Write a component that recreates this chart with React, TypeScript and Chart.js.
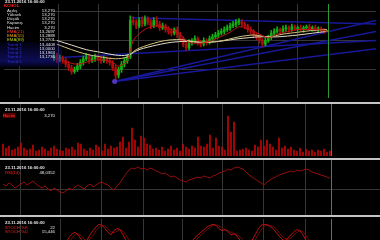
import React, { useEffect, useRef } from "react";
import { Chart, registerables } from "chart.js";

Chart.register(...registerables);

// ---------------- DATA ----------------
const DATE_LABEL = "23.11.2016 16:00:00";
const SYMBOL = "KCHOL";

const opens = [
  13.10, 13.12, 13.10, 13.14, 13.11, 13.08, 13.09, 13.05, 13.07, 13.04,
  13.02, 13.05, 13.01, 12.99, 13.02, 12.98, 12.97, 13.00, 12.96, 12.98,
  12.95, 12.91, 12.87, 12.83, 12.85, 12.89, 12.93, 12.97, 12.99, 12.95,
  12.97, 12.99, 12.97, 12.95, 12.97, 12.95, 12.93, 12.87, 12.79, 12.85,
  12.91, 12.95, 12.99, 13.39, 13.37, 13.33, 13.39, 13.35, 13.41, 13.37,
  13.33, 13.39, 13.35, 13.31, 13.33, 13.29, 13.27, 13.25, 13.29, 13.23,
  13.19, 13.13, 13.09, 13.15, 13.17, 13.19, 13.15, 13.13, 13.17, 13.15,
  13.19, 13.21, 13.23, 13.25, 13.27, 13.29, 13.31, 13.33, 13.35, 13.37,
  13.37, 13.35, 13.33, 13.29, 13.27, 13.23, 13.21, 13.17, 13.13, 13.17,
  13.21, 13.25, 13.27, 13.29, 13.27, 13.30, 13.31, 13.29, 13.32, 13.30,
  13.31, 13.29, 13.31, 13.32, 13.30, 13.31, 13.29, 13.30, 13.28, 13.27,
];
const highs = [
  13.15, 13.14, 13.16, 13.17, 13.13, 13.12, 13.11, 13.10, 13.09, 13.07,
  13.07, 13.08, 13.04, 13.04, 13.05, 13.01, 13.02, 13.03, 13.01, 13.00,
  12.98, 12.94, 12.90, 12.88, 12.92, 12.96, 13.00, 13.03, 13.02, 13.00,
  13.02, 13.01, 12.99, 13.00, 12.99, 12.98, 12.95, 12.90, 12.88, 12.94,
  12.98, 13.02, 13.44, 13.43, 13.40, 13.42, 13.43, 13.44, 13.43, 13.40,
  13.42, 13.43, 13.38, 13.36, 13.35, 13.32, 13.30, 13.31, 13.32, 13.26,
  13.21, 13.16, 13.18, 13.19, 13.22, 13.21, 13.17, 13.20, 13.19, 13.22,
  13.24, 13.26, 13.28, 13.30, 13.32, 13.34, 13.36, 13.38, 13.40, 13.41,
  13.40, 13.37, 13.35, 13.32, 13.29, 13.25, 13.23, 13.19, 13.20, 13.23,
  13.28, 13.30, 13.32, 13.31, 13.33, 13.34, 13.33, 13.35, 13.34, 13.33,
  13.34, 13.33, 13.34, 13.35, 13.33, 13.34, 13.32, 13.32, 13.30, 13.27,
];
const lows = [
  13.08, 13.07, 13.08, 13.09, 13.05, 13.06, 13.02, 13.03, 13.01, 12.99,
  13.00, 12.98, 12.96, 12.97, 12.95, 12.94, 12.95, 12.93, 12.94, 12.92,
  12.88, 12.84, 12.80, 12.81, 12.83, 12.86, 12.90, 12.95, 12.92, 12.93,
  12.94, 12.95, 12.92, 12.93, 12.92, 12.90, 12.84, 12.72, 12.76, 12.82,
  12.88, 12.92, 12.97, 13.34, 13.30, 13.31, 13.32, 13.33, 13.34, 13.30,
  13.31, 13.32, 13.28, 13.29, 13.26, 13.24, 13.22, 13.23, 13.20, 13.16,
  13.10, 13.06, 13.07, 13.12, 13.15, 13.12, 13.10, 13.11, 13.12, 13.13,
  13.16, 13.19, 13.20, 13.23, 13.24, 13.27, 13.28, 13.31, 13.32, 13.34,
  13.32, 13.30, 13.26, 13.24, 13.20, 13.18, 13.14, 13.10, 13.11, 13.15,
  13.18, 13.22, 13.25, 13.24, 13.25, 13.27, 13.26, 13.27, 13.28, 13.27,
  13.27, 13.26, 13.29, 13.28, 13.27, 13.27, 13.26, 13.26, 13.25, 13.27,
];
const closes = [
  13.12, 13.10, 13.14, 13.11, 13.08, 13.09, 13.05, 13.07, 13.04, 13.02,
  13.05, 13.01, 12.99, 13.02, 12.98, 12.97, 13.00, 12.96, 12.98, 12.95,
  12.91, 12.87, 12.83, 12.85, 12.89, 12.93, 12.97, 12.99, 12.95, 12.97,
  12.99, 12.97, 12.95, 12.97, 12.95, 12.93, 12.87, 12.79, 12.85, 12.91,
  12.95, 12.99, 13.39, 13.37, 13.33, 13.39, 13.35, 13.41, 13.37, 13.33,
  13.39, 13.35, 13.31, 13.33, 13.29, 13.27, 13.25, 13.29, 13.23, 13.19,
  13.13, 13.09, 13.15, 13.17, 13.19, 13.15, 13.13, 13.17, 13.15, 13.19,
  13.21, 13.23, 13.25, 13.27, 13.29, 13.31, 13.33, 13.35, 13.37, 13.37,
  13.35, 13.33, 13.29, 13.27, 13.23, 13.21, 13.17, 13.13, 13.17, 13.21,
  13.25, 13.27, 13.29, 13.27, 13.30, 13.31, 13.29, 13.32, 13.30, 13.31,
  13.29, 13.31, 13.32, 13.30, 13.31, 13.29, 13.30, 13.28, 13.27, 13.27,
];
const volumes = [
  7800, 5200, 6500, 3900, 4550, 5850, 8450, 5200, 3900, 4550,
  7150, 3250, 3900, 5850, 4550, 3250, 5200, 6500, 4550, 3900,
  3250, 5200, 4550, 5850, 3900, 8450, 7800, 4550, 3250, 5200,
  3900, 7150, 5850, 3250, 7800, 4550, 6500, 5200, 5850, 9100,
  12350, 5200, 9100, 18200, 10400, 5850, 13000, 11700, 7800, 7150,
  4550, 5200, 3900, 5850, 3250, 4550, 6500, 3900, 5200, 3250,
  7800, 5850, 4550, 6500, 5200, 12350, 6500, 5850, 7800, 13650,
  5200, 11700, 6500, 5850, 3900, 26000, 15600, 22100, 3250, 3900,
  4550, 5200, 3900, 3250, 7150, 5850, 10400, 6500, 10400, 7800,
  5850, 3900, 11700, 5200, 6500, 4550, 5850, 3900, 3250, 5200,
  2600, 4550, 3250, 3900, 2600, 3900, 3250, 4550, 2600, 3270,
];
const rsi = [
  40.6, 38.0, 41.9, 39.3, 35.3, 38.0, 40.6, 43.2, 39.3, 41.9,
  44.5, 40.6, 38.0, 35.3, 38.0, 34.0, 31.4, 35.3, 32.7, 30.1,
  28.8, 31.4, 35.3, 32.7, 36.7, 39.3, 36.7, 34.0, 38.0, 40.6,
  36.7, 39.3, 41.9, 43.2, 40.6, 39.3, 35.3, 32.7, 38.0, 41.9,
  48.4, 53.7, 58.9, 61.5, 60.2, 62.8, 60.2, 61.5, 58.9, 61.5,
  60.2, 57.6, 56.3, 53.7, 55.0, 52.4, 49.7, 51.1, 48.4, 45.8,
  44.5, 43.2, 45.8, 47.1, 48.4, 49.7, 48.4, 51.1, 49.7, 48.4,
  51.1, 52.4, 55.0, 56.3, 57.6, 60.2, 58.9, 61.5, 62.8, 61.5,
  60.2, 56.3, 52.4, 49.7, 47.1, 44.5, 41.9, 39.3, 43.2, 45.8,
  48.4, 49.7, 52.4, 53.7, 55.0, 56.3, 57.6, 56.3, 58.9, 57.6,
  58.9, 60.2, 58.9, 56.3, 55.0, 53.7, 52.4, 51.1, 49.7, 48.04,
];
const stochK = [
  30, 25, 35, 45, 40, 30, 20, 15, 25, 35,
  40, 45, 35, 25, 20, 30, 40, 50, 45, 35,
  45, 55, 65, 72, 75, 70, 62, 55, 60, 70,
  78, 85, 90, 88, 82, 75, 70, 78, 82, 80,
  70, 60, 50, 45, 40, 35, 30, 38, 45, 42,
  35, 28, 22, 25, 30, 35, 28, 20, 15, 20,
  30, 40, 50, 58, 65, 70, 75, 80, 85, 88,
  90, 88, 82, 78, 80, 76, 70, 72, 68, 60,
  50, 45, 50, 60, 70, 80, 88, 90, 89, 86,
  82, 75, 68, 62, 58, 65, 70, 76, 80, 78,
  70, 60, 50, 42, 35, 30, 26, 24, 23, 22,
];
const stochD = [
  32, 30, 30, 35, 40, 38, 30, 22, 20, 25,
  33, 40, 40, 35, 27, 25, 30, 40, 45, 43,
  42, 45, 55, 64, 71, 72, 69, 62, 59, 62,
  69, 78, 84, 88, 87, 82, 76, 74, 77, 80,
  77, 70, 60, 52, 45, 40, 35, 34, 38, 42,
  41, 35, 28, 25, 26, 30, 31, 28, 21, 18,
  22, 30, 40, 49, 58, 64, 70, 75, 80, 84,
  88, 89, 87, 83, 80, 78, 75, 73, 70, 67,
  59, 52, 48, 52, 60, 70, 79, 86, 89, 88,
  86, 81, 75, 68, 63, 62, 64, 70, 75, 78,
  76, 69, 60, 51, 42, 36, 30, 27, 24, 15.446,
];

const emaFastIdx = [17, 19, 24, 29, 32, 36, 38, 41, 43, 46, 49, 52, 56, 59, 62, 66, 69, 72, 76, 79, 82, 86, 89, 92, 96, 99, 103, 106, 109];
const emaFast = [12.98, 12.95, 12.91, 12.95, 12.96, 12.93, 12.89, 12.95, 13.17, 13.27, 13.32, 13.33, 13.29, 13.24, 13.15, 13.14, 13.16, 13.20, 13.26, 13.32, 13.30, 13.24, 13.20, 13.24, 13.27, 13.29, 13.29, 13.29, 13.2697];
const emaMidIdx = [17, 22, 27, 32, 37, 41, 44, 49, 54, 59, 66, 72, 79, 84, 89, 94, 99, 104, 109];
const emaMid = [13.13, 13.07, 13.02, 12.99, 12.97, 12.99, 13.07, 13.13, 13.17, 13.18, 13.15, 13.16, 13.21, 13.23, 13.21, 13.24, 13.26, 13.28, 13.2888];
const emaSlowIdx = [17, 22, 27, 32, 37, 41, 45, 51, 56, 61, 66, 72, 79, 86, 92, 99, 104, 109];
const emaSlow = [13.17, 13.12, 13.07, 13.04, 13.01, 13.01, 13.07, 13.12, 13.15, 13.16, 13.15, 13.16, 13.19, 13.21, 13.21, 13.23, 13.25, 13.2701];

const trendFromIdx = [42.33, 36.67, 36.67, 36.67, -1];
const trendFromVal = [13.42, 12.72, 12.72, 12.72, 12.95];
const trendToIdx = [125.67, 125.67, 125.67, 125.67, 125.67];
const trendToVal = [13.35, 13.39, 13.27, 13.08, 13.17];
const pivotIdx = 36.67;
const pivotVal = 12.72;

const legendLabels = ["Açılış", "Yüksek", "Düşük", "Kapanış", "Hacim", "EMA(21)", "EMA(55)", "EMA(89)", "Trend 1", "Trend 2", "Trend 3", "Trend 4", "Trend 5"];
const legendValues = ["13,270", "13,270", "13,270", "13,270", "3,270", "13,2697", "13,2888", "13,2701", "13,4408", "13,0000", "13,1963", "13,1736", ""];
const volumeLabel = "Hacim";
const volumeValue = "3,270";
const rsiLabel = "RSI(14)";
const rsiValue = "48,0352";
const stochLabels = ["STOCH %K", "STOCH %D"];
const stochValues = ["22", "15,446"];

const timeGridTop = [4.33, 17.67, 31.33, 44.67, 58.33, 71.67, 85.67, 99];
const timeGridLow = [5.67, 19.33, 33, 46.67, 60, 73.33, 87, 101];
const priceGrid = [12.85, 13.17, 13.49];
const rsiGrid = [34];
const CURSOR = 109.5;

// ---------------- STYLE ----------------
const W = 380;
const X_MIN = -1;
const X_MAX = 125.67;
const GRID = "#363636";
const UP = "#12b012";
const DOWN = "#b00c0c";
const BLUE = "#18189a";
const VOL_MAX = 33800;
const FONT = '"Liberation Sans", Arial, sans-serif';

const idx = opens.map((_, i) => i);

function xAxis(ticks: number[]) {
  return {
    type: "linear",
    min: X_MIN,
    max: X_MAX,
    offset: false,
    afterBuildTicks: (s: any) => {
      s.ticks = ticks.map((v) => ({ value: v }));
    },
    ticks: { display: false },
    grid: { color: GRID, drawTicks: false, offset: false },
    border: { display: false },
  };
}
function yAxis(min: number, max: number, ticks: number[] | null) {
  const ax: any = {
    type: "linear",
    min,
    max,
    ticks: { display: false },
    grid: { display: !!ticks, color: GRID, drawTicks: false },
    border: { display: false },
  };
  if (ticks) {
    ax.afterBuildTicks = (s: any) => {
      s.ticks = ticks.map((v) => ({ value: v }));
    };
  }
  return ax;
}
function baseOptions(x: any, y: any, padding: any) {
  return {
    responsive: false,
    animation: false,
    events: [],
    layout: { padding },
    plugins: { legend: { display: false }, tooltip: { enabled: false } },
    scales: { x, y },
  };
}
function lineDs(xs: number[], ys: number[], color: string, width = 1, tension = 0) {
  return {
    type: "line",
    data: xs.map((x, k) => ({ x, y: ys[k] })),
    borderColor: color,
    borderWidth: width,
    pointRadius: 0,
    tension,
    fill: false,
  };
}
function cursorDs(lo: number, hi: number) {
  return lineDs([CURSOR, CURSOR], [lo, hi], "#2e9a2e", 1);
}

const candleColors = idx.map((i) => (closes[i] >= opens[i] ? UP : DOWN));

const priceConfig: any = {
  type: "bar",
  data: {
    datasets: [
      cursorDs(12.54, 13.57),
      lineDs(emaFastIdx, emaFast, "#b81414", 1, 0.3),
      lineDs(emaMidIdx, emaMid, "#d2c27c", 1, 0.3),
      lineDs(emaSlowIdx, emaSlow, "#e2dec4", 1, 0.3),
      {
        type: "line",
        data: [{ x: pivotIdx, y: pivotVal }],
        showLine: false,
        pointRadius: 2.5,
        pointBackgroundColor: "#5036c0",
        pointBorderWidth: 0,
      },
      {
        type: "bar",
        data: idx.map((i) => ({ x: i, y: [opens[i], closes[i]] })),
        backgroundColor: candleColors,
        barThickness: 2,
        minBarLength: 1,
        grouped: false,
      },
      {
        type: "bar",
        data: idx.map((i) => ({ x: i, y: [lows[i], highs[i]] })),
        backgroundColor: candleColors,
        barThickness: 1,
        grouped: false,
      },
      ...trendFromIdx.map((f, k) =>
        lineDs([f, trendToIdx[k]], [trendFromVal[k], trendToVal[k]], BLUE, 1.5)
      ),
    ],
  },
  options: baseOptions(xAxis(timeGridTop), yAxis(12.54, 13.57, priceGrid), 0),
};

const volumeConfig: any = {
  type: "bar",
  data: {
    datasets: [
      cursorDs(0, VOL_MAX),
      {
        type: "bar",
        data: idx.map((i) => ({ x: i, y: volumes[i] })),
        backgroundColor: "#c00606",
        barThickness: 1,
      },
    ],
  },
  options: baseOptions(xAxis(timeGridLow), yAxis(0, VOL_MAX, null), { bottom: 2 }),
};

const rsiConfig: any = {
  type: "line",
  data: {
    datasets: [
      cursorDs(0, 72),
      lineDs(idx, rsi, "#960c0c", 1),
    ],
  },
  options: baseOptions(xAxis(timeGridLow), yAxis(0, 72, rsiGrid), 0),
};

const stochConfig: any = {
  type: "line",
  data: {
    datasets: [
      cursorDs(0, 100),
      lineDs(idx, stochK, "#b41212", 1),
      lineDs(idx, stochD, "#700808", 1),
    ],
  },
  options: baseOptions(xAxis(timeGridLow), yAxis(0, 100, null), { top: 2 }),
};

function Panel({ top, height, config }: { top: number; height: number; config: any }) {
  const ref = useRef<HTMLCanvasElement>(null);
  useEffect(() => {
    const chart = new Chart(ref.current as HTMLCanvasElement, config);
    return () => chart.destroy();
  }, []);
  return (
    <canvas
      ref={ref}
      width={W}
      height={height}
      style={{ position: "absolute", left: 0, top, width: W, height, display: "block" }}
    />
  );
}

function T({ x, y, color = "#e6e6e6", right = false, bold = false, bg, children }: any) {
  const style: any = {
    position: "absolute",
    top: y - 2.5,
    font: `${bold ? "bold " : ""}4.3px ${FONT}`,
    lineHeight: "5px",
    color,
    whiteSpace: "nowrap",
    background: bg,
  };
  if (right) style.right = W - x;
  else style.left = x;
  return <div style={style}>{children}</div>;
}

function Sep({ top }: { top: number }) {
  return <div style={{ position: "absolute", left: 0, top, width: W, height: 2, background: "#c4c4c4" }} />;
}

const labelColors = ["#e6e6e6", "#e6e6e6", "#e6e6e6", "#e6e6e6", "#e6e6e6", "#ff3030", "#e8a020", "#b8d020", "#3030e0", "#3030e0", "#3030e0", "#3030e0", "#3030e0"];

export default function App() {
  useEffect(() => {
    document.body.style.margin = "0";
    document.body.style.background = "#000";
  }, []);
  const rowY = (k: number) => 1.5 + 4.25 * k;
  return (
    <div style={{ position: "relative", width: W, height: 240, overflow: "hidden", background: "#000" }}>
      <Panel top={0} height={102} config={priceConfig} />
      <Sep top={102} />
      <Panel top={104} height={54} config={volumeConfig} />
      <Sep top={158} />
      <Panel top={160} height={55} config={rsiConfig} />
      <Sep top={215} />
      <Panel top={217} height={55} config={stochConfig} />

      {/* price legend */}
      <div style={{ position: "absolute", left: 0, top: 0, width: 53, height: 66, background: "#000" }} />
      <div
        style={{
          position: "absolute",
          left: 0,
          top: 42,
          width: 62,
          height: 25,
          background: "linear-gradient(180deg, rgba(10,10,90,0.15) 0%, rgba(25,25,170,0.5) 75%, rgba(10,10,90,0.25) 100%)",
        }}
      />
      <T x={5} y={rowY(0)} bold>{DATE_LABEL}</T>
      <T x={4} y={rowY(1)} color="#ff2020" bold>{SYMBOL}</T>
      {legendLabels.map((l, k) => (
        <T key={"l" + k} x={7} y={rowY(k + 2)} color={labelColors[k]}>{l}</T>
      ))}
      {legendValues.map((v, k) => (
        <T key={"v" + k} x={55} y={rowY(k + 2)} right>{v}</T>
      ))}

      {/* volume header */}
      <T x={5} y={109.5} bold>{DATE_LABEL}</T>
      <T x={3} y={115.5} color="#ff3a3a" bg="#5a0000">{volumeLabel}</T>
      <T x={55} y={115.5} right>{volumeValue}</T>

      {/* rsi header */}
      <T x={5} y={167} bold>{DATE_LABEL}</T>
      <T x={5} y={172} color="#ff2020">{rsiLabel}</T>
      <T x={55} y={172} right>{rsiValue}</T>

      {/* stochastic header */}
      <T x={5} y={222.7} bold>{DATE_LABEL}</T>
      {stochLabels.map((l, k) => (
        <T key={"s" + k} x={5} y={227.2 + 4.5 * k} color="#ff2020">{l}</T>
      ))}
      {stochValues.map((v, k) => (
        <T key={"sv" + k} x={55} y={227.2 + 4.5 * k} right>{v}</T>
      ))}
    </div>
  );
}
